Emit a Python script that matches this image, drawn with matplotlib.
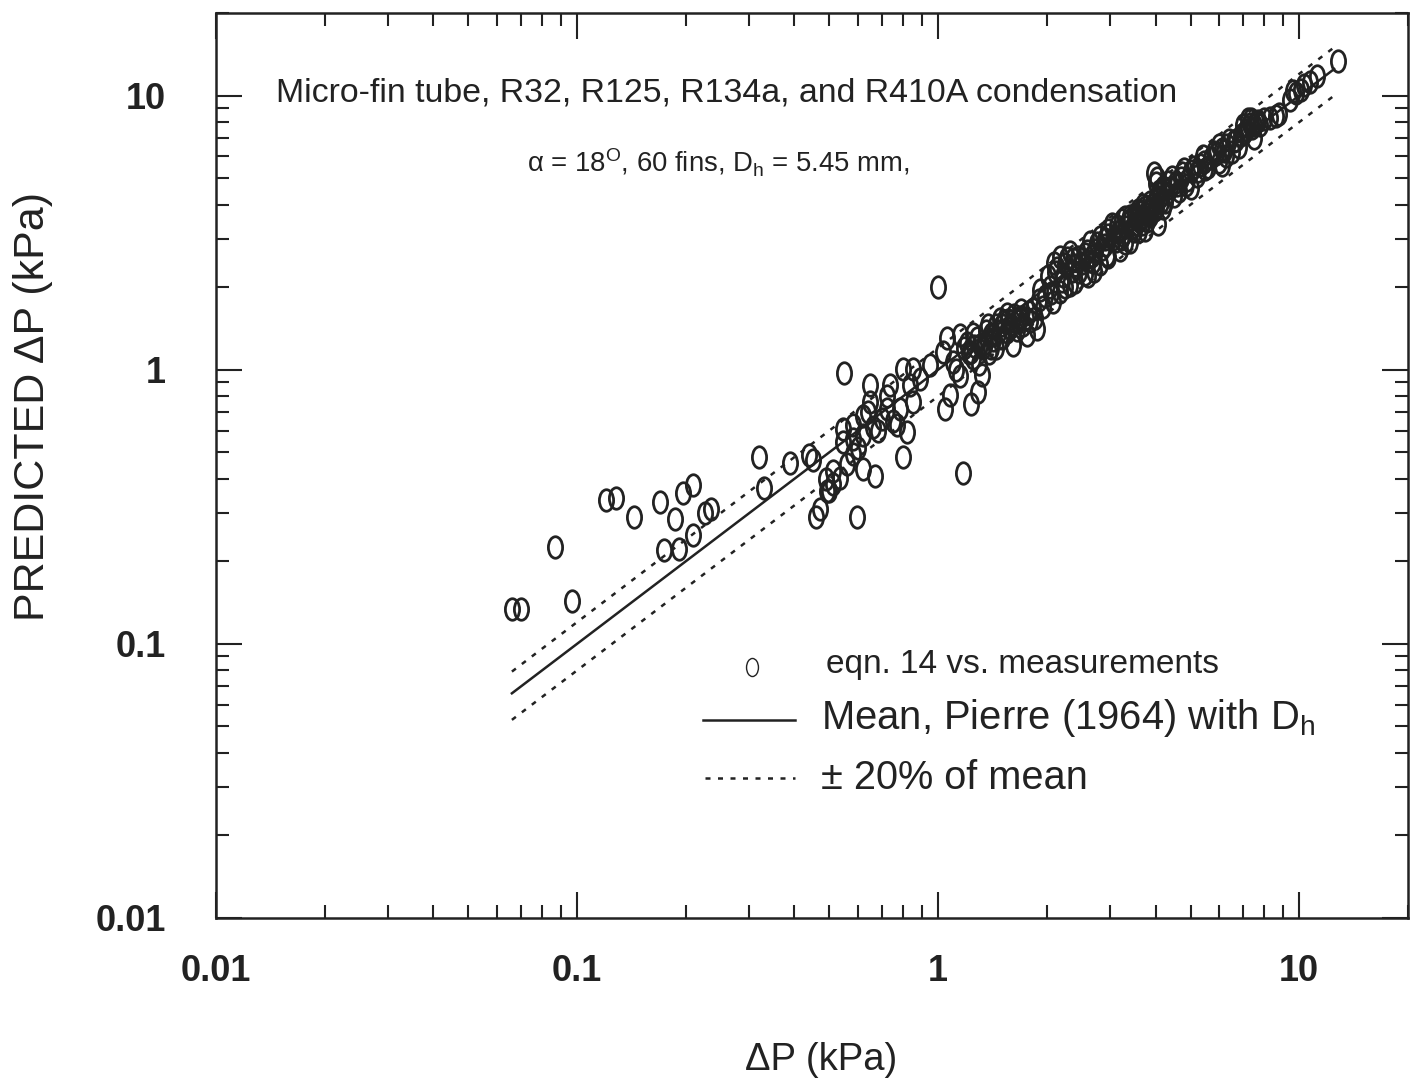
import matplotlib
matplotlib.use("Agg")
import matplotlib.pyplot as plt
from matplotlib.path import Path
from matplotlib.transforms import Affine2D
import numpy as np

plt.rcParams['font.family'] = ['Liberation Sans', 'DejaVu Sans']
plt.rcParams['mathtext.fontset'] = 'custom'
plt.rcParams['mathtext.rm'] = 'Liberation Sans'
plt.rcParams['mathtext.it'] = 'Liberation Sans:italic'

meas = [0.066, 0.070, 0.087, 0.097, 0.120, 0.128, 0.144, 0.170, 0.174, 0.187,
        0.192, 0.197, 0.21, 0.21, 0.226, 0.235, 0.32, 0.33, 0.39, 0.44,
        0.45, 0.46, 0.47, 0.49, 0.50, 0.55, 0.595, 0.67, 0.80, 1.0, 1.17,
        0.512, 0.546, 0.581, 0.546, 0.648, 0.736, 0.648, 0.723, 0.785, 0.821,
        0.77, 0.853, 0.581, 0.62, 0.56, 0.512, 0.493, 0.535, 0.80, 0.853,
        0.891, 0.836, 0.95, 1.03, 1.059, 1.15, 1.23, 1.10, 1.045, 1.08,
        1.23, 1.29, 1.32,
        0.62, 0.66, 0.70, 0.60, 0.64, 0.68, 0.75, 0.58, 0.72, 0.62,
        1.31, 1.37, 1.42, 1.48, 1.55, 1.69, 1.76, 1.61, 1.88, 1.83,
        2.08, 2.18, 2.32, 2.45, 2.36, 2.69, 2.94,
        1.2, 1.25, 1.35, 1.4, 1.45, 1.5, 1.55, 1.6, 1.65, 1.7,
        1.75, 1.8, 1.9, 1.95, 1.12, 1.15, 1.3, 1.25, 1.38, 1.45, 1.5,
        2.04, 2.11, 2.18, 2.25, 2.32, 2.44, 2.55, 2.64, 2.72, 2.81,
        2.90, 2.96, 3.03, 3.15, 3.23, 3.30, 3.40, 3.51, 3.58, 3.67,
        3.74, 3.82, 3.86, 3.99, 4.12, 4.20, 4.33, 4.45, 4.25, 4.07,
        3.74, 3.40, 3.19, 2.96, 2.81, 2.55, 2.40, 2.25,
        2.1, 2.2, 2.4, 2.6, 2.7, 2.9, 3.1, 3.2, 3.3, 3.45,
        3.5, 3.6, 3.7, 3.8, 3.9, 4.0, 4.0, 4.1, 4.3, 4.5,
        4.6, 4.7, 4.9, 5.0, 5.2, 5.3, 5.5, 5.7, 5.9, 6.0,
        6.2, 6.3, 6.5, 6.6, 6.9, 7.0, 7.1, 7.3, 7.4, 7.6,
        7.8, 8.3, 8.6, 9.4, 9.8, 10.1, 10.7, 12.8, 5.4, 4.8,
        6.8, 7.2, 6.0,
        3.3, 3.6, 4.2, 5.0, 6.1, 7.5, 2.6,
        1.22, 1.28, 1.33, 1.36, 1.42, 1.47, 1.52, 1.58, 1.62, 1.66,
        1.72, 1.78, 1.85, 1.92, 1.98, 1.18, 1.26, 1.4, 1.56, 1.68,
        2.02, 2.06, 2.14, 2.22, 2.28, 2.35, 2.5, 2.58, 2.66, 2.75,
        2.85, 2.95, 3.05, 3.12, 3.18, 3.25, 3.35, 3.42, 3.48, 3.55,
        3.62, 3.68, 3.78, 3.85, 3.92, 4.02, 4.08, 4.15, 4.22, 4.4,
        4.55, 4.65, 4.75, 4.85, 3.95, 4.05,
        5.1, 5.25, 5.45, 5.6, 5.8, 6.1, 6.25, 6.4, 6.7, 7.05,
        7.2, 7.35, 7.5, 7.7, 8.0, 8.8, 9.6, 10.3, 11.2]
pred = [0.134, 0.134, 0.225, 0.143, 0.335, 0.34, 0.29, 0.33, 0.22, 0.285,
        0.222, 0.355, 0.38, 0.25, 0.30, 0.31, 0.48, 0.37, 0.455, 0.49,
        0.47, 0.29, 0.31, 0.40, 0.36, 0.97, 0.29, 0.41, 0.48, 2.0, 0.42,
        0.382, 0.61, 0.631, 0.547, 0.882, 0.882, 0.765, 0.721, 0.721, 0.595,
        0.631, 0.765, 0.491, 0.436, 0.452, 0.426, 0.36, 0.402, 1.01, 1.01,
        0.927, 0.882, 1.04, 1.16, 1.30, 1.34, 1.16, 1.07, 0.721, 0.811,
        0.75, 0.83, 0.96,
        0.58, 0.62, 0.66, 0.52, 0.70, 0.60, 0.65, 0.56, 0.80, 0.68,
        1.23, 1.46, 1.34, 1.53, 1.37, 1.53, 1.34, 1.23, 1.41, 1.67,
        1.77, 1.92, 2.04, 2.27, 2.53, 2.47, 2.62,
        1.25, 1.1, 1.25, 1.2, 1.45, 1.3, 1.6, 1.5, 1.4, 1.65,
        1.55, 1.5, 1.8, 1.7, 1.0, 0.95, 1.05, 1.35, 1.15, 1.2, 1.45,
        2.0, 2.27, 2.58, 2.43, 2.69, 2.58, 2.64, 2.92, 2.73, 3.05,
        2.85, 3.23, 3.40, 3.18, 3.51, 3.31, 3.63, 3.40, 3.82, 3.60,
        3.91, 3.69, 4.08, 3.82, 4.26, 4.63, 4.83, 5.03, 4.08, 3.40,
        3.23, 2.92, 2.73, 2.58, 2.43, 2.23, 2.09, 2.0,
        2.45, 2.1, 2.4, 2.5, 2.3, 3.0, 2.95, 3.0, 3.6, 3.3,
        3.7, 3.5, 4.0, 3.5, 3.9, 4.2, 4.8, 4.5, 4.4, 4.3,
        4.7, 5.0, 4.9, 5.3, 5.1, 5.6, 5.4, 5.9, 6.1, 5.7,
        6.3, 6.6, 6.2, 6.8, 7.2, 7.8, 7.5, 7.9, 7.6, 8.0,
        7.8, 8.3, 8.4, 9.6, 10.2, 10.5, 11.2, 13.4, 6.0, 5.4,
        6.5, 8.2, 6.6,
        2.9, 3.2, 3.9, 4.6, 5.6, 7.0, 2.2,
        1.15, 1.3, 1.2, 1.38, 1.28, 1.38, 1.5, 1.42, 1.58, 1.5,
        1.45, 1.62, 1.55, 1.95, 1.85, 1.2, 1.22, 1.35, 1.52, 1.56,
        2.2, 1.9, 2.35, 2.2, 2.55, 2.3, 2.45, 2.7, 2.6, 2.9,
        2.75, 3.1, 3.0, 3.35, 3.2, 3.1, 3.45, 3.55, 3.2, 3.6,
        3.75, 3.4, 3.8, 3.65, 4.0, 3.9, 4.4, 4.1, 4.55, 4.6,
        4.85, 4.5, 5.2, 4.7, 5.2, 5.0,
        5.5, 5.3, 5.7, 5.5, 6.2, 6.4, 6.0, 6.9, 6.9, 7.3,
        7.7, 8.2, 7.8, 8.1, 8.2, 8.6, 10.4, 10.9, 11.8]

# mean correlation line and +/-20% band
line_x = [0.066, 12.5]
mean_ratio = 1.0
band = 0.20

fig = plt.figure(figsize=(14.19, 10.87), dpi=100)
ax = fig.add_axes([0.1522, 0.1555, 0.8400, 0.8325])

# tall "0"-like open ellipse marker
ell = Path.unit_circle().transformed(Affine2D().scale(0.66, 1.0))

ax.plot(meas, pred, linestyle='none', marker=ell, markersize=15.5,
        markerfacecolor='none', markeredgecolor='#222222', markeredgewidth=2.0)

lx = np.array(line_x)
ax.plot(lx, lx * mean_ratio, color='#222222', lw=1.8)
ax.plot(lx, lx * mean_ratio * (1 + band), color='#222222', lw=1.8,
        linestyle=(0, (2, 3)))
ax.plot(lx, lx * mean_ratio * (1 - band), color='#222222', lw=1.8,
        linestyle=(0, (2, 3)))

ax.set_xscale('log')
ax.set_yscale('log')
ax.set_xlim(0.01, 20)
ax.set_ylim(0.01, 20)

ax.set_xticks([0.01, 0.1, 1, 10])
ax.set_xticklabels(['0.01', '0.1', '1', '10'])
ax.set_yticks([0.01, 0.1, 1, 10])
ax.set_yticklabels(['0.01', '0.1', '1', '10'])
ax.tick_params(which='major', direction='in', length=18.5, width=1.5,
               top=True, right=True, labelsize=26, colors='#222222')
ax.tick_params(axis='x', which='major', pad=26)
ax.tick_params(axis='y', which='major', pad=36)
ax.tick_params(which='minor', direction='in', length=9.5, width=1.5,
               top=True, right=True, colors='#222222')
for lab in ax.get_xticklabels() + ax.get_yticklabels():
    lab.set_fontweight('bold')
for sp in ax.spines.values():
    sp.set_linewidth(1.8)
    sp.set_color('#222222')

ax.set_xlabel('ΔP (kPa)', fontsize=27.5, color='#222222', va='center')
ax.xaxis.set_label_coords(0.508, -0.157)
ax.set_ylabel('PREDICTED ΔP (kPa)', fontsize=31, color='#222222', va='center')
ax.yaxis.set_label_coords(-0.1535, 0.565)

ax.text(0.050, 0.912, 'Micro-fin tube, R32, R125, R134a, and R410A condensation',
        transform=ax.transAxes, fontsize=24.4, va='center', ha='left', color='#222222')
ax.text(0.261, 0.834, r'α = 18$^{\mathrm{O}}$, 60 fins, D$_{\mathrm{h}}$ = 5.45 mm,',
        transform=ax.transAxes, fontsize=19.8, va='center', ha='left', color='#222222')

# hand-made legend
ax.plot([0.4497], [0.277], transform=ax.transAxes, marker=ell, markersize=13,
        markerfacecolor='none', markeredgecolor='#222222', markeredgewidth=1.0,
        linestyle='none')
ax.text(0.5117, 0.2796, 'eqn. 14 vs. measurements', transform=ax.transAxes,
        fontsize=24, va='center', ha='left', color='#222222')
ax.plot([0.4086, 0.4857], [0.2188, 0.2188], transform=ax.transAxes,
        color='#222222', lw=1.8)
ax.text(0.508, 0.221, r'Mean, Pierre (1964) with D$_{\mathrm{h}}$', transform=ax.transAxes,
        fontsize=28.8, va='center', ha='left', color='#222222')
ax.plot([0.4103, 0.4857], [0.1547, 0.1547], transform=ax.transAxes,
        color='#222222', lw=1.8, linestyle=(0, (2, 3)))
ax.text(0.508, 0.1547, '± 20% of mean', transform=ax.transAxes,
        fontsize=28.6, va='center', ha='left', color='#222222')

fig.savefig('out.png', dpi=100)
